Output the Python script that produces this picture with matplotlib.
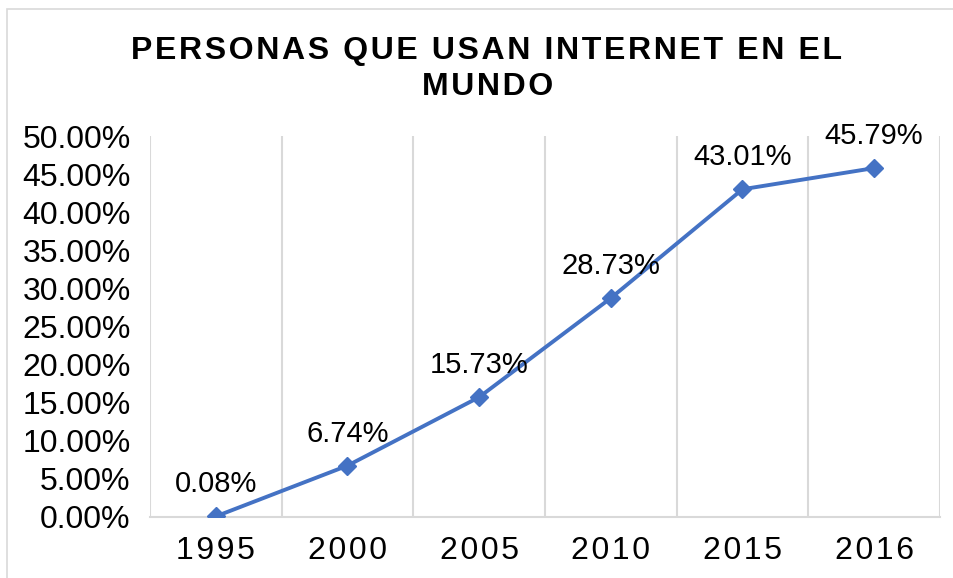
import numpy as np
import matplotlib.pyplot as plt
from matplotlib.patches import Rectangle

years = ['1995', '2000', '2005', '2010', '2015', '2016']
values = [0.0008, 0.0674, 0.1573, 0.2873, 0.4301, 0.4579]
title_lines = ['PERSONAS QUE USAN INTERNET EN EL', 'MUNDO']

plt.rcParams['font.family'] = ['Liberation Sans', 'DejaVu Sans']

HS = '\u200a'  # hair space, used as letter spacing


def spaced(s):
    return HS.join(s)


fig = plt.figure(figsize=(9.54, 5.78), dpi=100)
ax = fig.add_axes([150 / 954, 1 - 517 / 578, 790 / 954, 381 / 578])

x = np.arange(len(years))
ax.plot(x, values, color='#4472C4', lw=2.8, marker='D', ms=9.5, zorder=3)

for xi, v in zip(x, values):
    ax.annotate(f'{v * 100:.2f}%', (xi, v), xytext=(0, 13), textcoords='offset points',
                ha='center', va='bottom', fontsize=21, color='black')

ax.set_xlim(-0.5, len(years) - 0.5)
ax.set_ylim(0, 0.5)
ax.set_yticks(np.arange(0, 0.501, 0.05))
ax.set_yticklabels([f'{t * 100:.2f}%' for t in np.arange(0, 0.501, 0.05)], fontsize=23)
ax.set_xticks(x)
ax.set_xticklabels([spaced(y) for y in years], fontsize=23)
ax.set_xticks(np.arange(-0.5, len(years)), minor=True)
ax.grid(True, which='minor', axis='x', color='#d9d9d9', lw=1.5)
ax.tick_params(axis='both', which='both', length=0)
ax.tick_params(axis='y', pad=14)
ax.tick_params(axis='x', pad=14)

for side in ['top', 'right', 'left']:
    ax.spines[side].set_visible(False)
ax.spines['bottom'].set_color('#d9d9d9')
ax.spines['bottom'].set_linewidth(1.5)

fig.text(487 / 954, 1 - 51 / 578, spaced(title_lines[0]),
         ha='center', va='center', fontsize=23, fontweight='bold')
fig.text(488 / 954, 1 - 87 / 578, spaced(title_lines[1]),
         ha='center', va='center', fontsize=23, fontweight='bold')

fig.patches.append(Rectangle((7 / 954, -0.1), 1.2, 1 - 9 / 578 + 0.1, transform=fig.transFigure,
                             fill=False, edgecolor='#d9d9d9', lw=1.2, zorder=0))

plt.savefig('out.png', dpi=100)
